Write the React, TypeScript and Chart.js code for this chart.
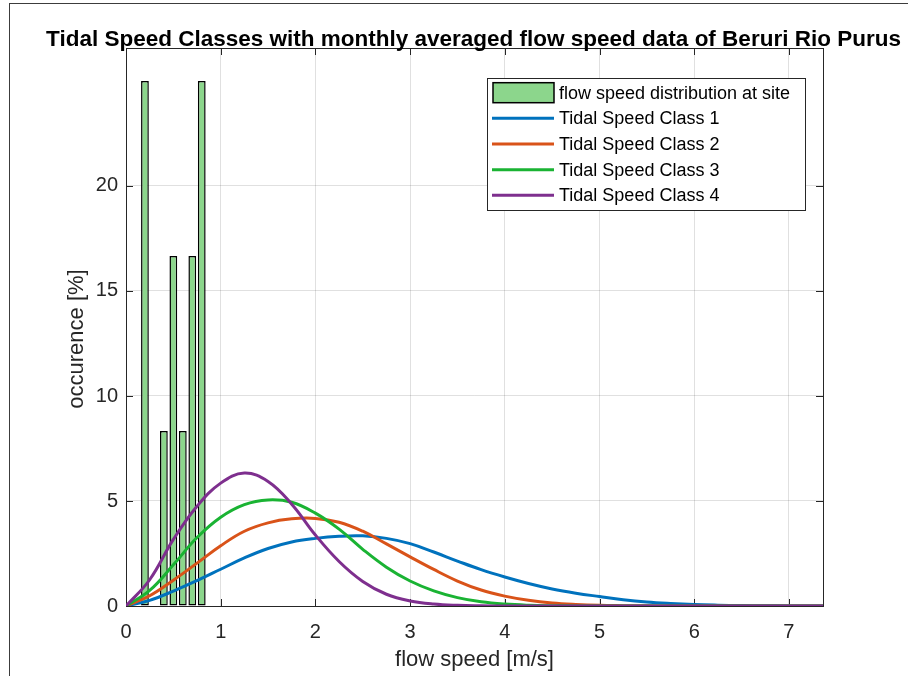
import React, { useEffect, useRef } from "react";
import { Chart, registerables } from "chart.js";

Chart.register(...registerables);

// ---------- text ----------
const TITLE = "Tidal Speed Classes with monthly averaged flow speed data of Beruri Rio Purus";
const X_LABEL = "flow speed [m/s]";
const Y_LABEL = "occurence [%]";

// ---------- axes ----------
const X_TICKS = [0, 1, 2, 3, 4, 5, 6, 7];
const Y_TICKS = [0, 5, 10, 15, 20];
const X_MAX = 7.36;
const Y_MAX = 26.57;

// ---------- histogram (monthly averaged flow speed) ----------
const BAR_LABEL = "flow speed distribution at site";
const BAR_SPEEDS = [0.2, 0.4, 0.5, 0.6, 0.7, 0.8];
const BAR_OCCURRENCE = [25, 8.33, 16.67, 8.33, 16.67, 25];

// ---------- tidal speed class curves ----------
const CLASS_LABELS = [
  "Tidal Speed Class 1",
  "Tidal Speed Class 2",
  "Tidal Speed Class 3",
  "Tidal Speed Class 4",
];
const CURVE_SPEEDS = [
  0, 0.25, 0.5, 0.75, 1, 1.25, 1.5, 1.75, 2, 2.25, 2.5, 2.75, 3, 3.25, 3.5, 3.75,
  4, 4.25, 4.5, 4.75, 5, 5.25, 5.5, 5.75, 6, 6.25, 6.5, 6.75, 7, 7.25, 7.36,
];
const CLASS_1 = [
  0, 0.27, 0.71, 1.21, 1.75, 2.29, 2.74, 3.05, 3.22, 3.32, 3.34, 3.22, 2.97, 2.57, 2.14, 1.73,
  1.38, 1.07, 0.81, 0.61, 0.45, 0.3, 0.19, 0.12, 0.07, 0.04, 0.02, 0.01, 0.005, 0.002, 0.001,
];
const CLASS_2 = [
  0, 0.49, 1.23, 2.04, 2.87, 3.56, 3.96, 4.15, 4.17, 3.99, 3.56, 2.96, 2.34, 1.74, 1.19, 0.76,
  0.47, 0.27, 0.14, 0.07, 0.03, 0.015, 0.006, 0.002, 0.001, 0, 0, 0, 0, 0, 0,
];
const CLASS_3 = [
  0, 0.74, 1.96, 3.26, 4.23, 4.83, 5.05, 4.94, 4.42, 3.66, 2.7, 1.85, 1.19, 0.72, 0.4, 0.2,
  0.09, 0.035, 0.012, 0.004, 0, 0, 0, 0, 0, 0, 0, 0, 0, 0, 0,
];
const CLASS_4 = [
  0, 1.25, 3.17, 4.75, 5.85, 6.33, 5.93, 4.85, 3.38, 2.12, 1.17, 0.56, 0.24, 0.09, 0.03, 0.01,
  0.003, 0, 0, 0, 0, 0, 0, 0, 0, 0, 0, 0, 0, 0, 0,
];
const CLASS_VALUES = [CLASS_1, CLASS_2, CLASS_3, CLASS_4];

// ---------- styles ----------
const CLASS_COLORS = ["rgb(0,114,189)", "rgb(217,83,25)", "rgb(26,179,51)", "rgb(126,47,142)"];
const BAR_FILL = "rgb(140,214,140)";
const AXIS_COLOR = "#262626";
const FONT = '"Liberation Sans", Arial, Helvetica, sans-serif';

const framePlugin = {
  id: "matlabFrame",
  beforeDatasetsDraw(chart: any) {
    const { ctx, chartArea } = chart;
    const { left, right, top, bottom } = chartArea;
    const xs = chart.scales.x;
    const ys = chart.scales.y;
    const tl = 7;
    ctx.save();
    ctx.strokeStyle = AXIS_COLOR;
    ctx.lineWidth = 1;
    ctx.beginPath();
    X_TICKS.forEach((v) => {
      const px = Math.round(xs.getPixelForValue(v)) + 0.5;
      ctx.moveTo(px, bottom);
      ctx.lineTo(px, bottom - tl);
      ctx.moveTo(px, top);
      ctx.lineTo(px, top + tl);
    });
    Y_TICKS.forEach((v) => {
      const py = Math.round(ys.getPixelForValue(v)) + 0.5;
      ctx.moveTo(left, py);
      ctx.lineTo(left + tl, py);
      ctx.moveTo(right, py);
      ctx.lineTo(right - tl, py);
    });
    ctx.stroke();
    ctx.strokeRect(Math.round(left) + 0.5, Math.round(top) + 0.5, Math.round(right - left), Math.round(bottom - top));
    ctx.restore();
  },
  afterDraw(chart: any) {
    const { ctx, chartArea } = chart;
    ctx.save();
    // title
    ctx.fillStyle = "#000";
    ctx.font = `bold 22.5px ${FONT}`;
    ctx.textAlign = "center";
    ctx.textBaseline = "alphabetic";
    ctx.fillText(TITLE, (chartArea.left + chartArea.right) / 2 - 1, 46);
    // y label
    ctx.save();
    ctx.translate(77, 339);
    ctx.rotate(-Math.PI / 2);
    ctx.fillStyle = AXIS_COLOR;
    ctx.font = `22px ${FONT}`;
    ctx.textBaseline = "middle";
    ctx.fillText(Y_LABEL, 0, 0);
    ctx.restore();

    // legend
    const bx = 487, by = 78, bw = 318, bh = 132;
    ctx.fillStyle = "#fff";
    ctx.fillRect(bx, by, bw, bh);
    ctx.strokeStyle = AXIS_COLOR;
    ctx.lineWidth = 1;
    ctx.strokeRect(bx + 0.5, by + 0.5, bw, bh);
    const datasets = chart.data.datasets;
    ctx.font = `18px ${FONT}`;
    ctx.textAlign = "left";
    ctx.textBaseline = "middle";
    datasets.forEach((ds: any, i: number) => {
      const cy = 92.7 + i * 25.65;
      if (ds.type === "bar") {
        ctx.fillStyle = ds.backgroundColor;
        ctx.fillRect(493, cy - 10, 61, 20);
        ctx.strokeStyle = "#000";
        ctx.lineWidth = 1.5;
        ctx.strokeRect(493, cy - 10, 61, 20);
      } else {
        ctx.strokeStyle = ds.borderColor;
        ctx.lineWidth = 3;
        ctx.beginPath();
        ctx.moveTo(492, cy);
        ctx.lineTo(554, cy);
        ctx.stroke();
      }
      ctx.fillStyle = "#000";
      ctx.fillText(ds.label, 559, cy + 1);
    });
    ctx.restore();
  },
};

export default function App() {
  const canvasRef = useRef<HTMLCanvasElement | null>(null);

  useEffect(() => {
    const canvas = canvasRef.current;
    if (!canvas) return;
    const datasets: any[] = [
      {
        type: "bar",
        label: BAR_LABEL,
        data: BAR_SPEEDS.map((x, i) => ({ x, y: BAR_OCCURRENCE[i] })),
        backgroundColor: BAR_FILL,
        borderColor: "#000",
        borderWidth: 1.5,
        borderSkipped: false,
        barPercentage: 0.82,
        categoryPercentage: 1,
        order: 10,
      },
      ...CLASS_LABELS.map((label, k) => ({
        type: "line",
        label,
        data: CURVE_SPEEDS.map((x, i) => ({ x, y: CLASS_VALUES[k][i] })),
        borderColor: CLASS_COLORS[k],
        backgroundColor: CLASS_COLORS[k],
        borderWidth: 3,
        pointRadius: 0,
        fill: false,
        tension: 0.4,
        order: 4 - k,
      })),
    ];

    const chart = new Chart(canvas, {
      type: "bar",
      data: { datasets },
      options: {
        animation: false,
        responsive: false,
        devicePixelRatio: 1,
        layout: { padding: { top: 48, right: 85, left: 0, bottom: 0 } },
        plugins: {
          legend: { display: false },
          title: { display: false },
          tooltip: { enabled: false },
        },
        scales: {
          x: {
            type: "linear",
            min: 0,
            max: X_MAX,
            offset: false,
            grid: { offset: false, color: "rgba(0,0,0,0.12)", drawTicks: false },
            border: { display: false },
            ticks: {
              font: { family: FONT, size: 20 },
              color: AXIS_COLOR,
              padding: 14,
              maxRotation: 0,
            },
            afterBuildTicks: (s: any) => {
              s.ticks = X_TICKS.map((v) => ({ value: v }));
            },
            afterFit: (s: any) => {
              s.height = 70;
            },
            title: {
              display: true,
              text: X_LABEL,
              font: { family: FONT, size: 22 },
              color: AXIS_COLOR,
              padding: { top: 0, bottom: 3 },
            },
          },
          y: {
            type: "linear",
            min: 0,
            max: Y_MAX,
            grid: { color: "rgba(0,0,0,0.12)", drawTicks: false },
            border: { display: false },
            ticks: {
              font: { family: FONT, size: 20 },
              color: AXIS_COLOR,
              padding: 8,
            },
            afterBuildTicks: (s: any) => {
              s.ticks = Y_TICKS.map((v) => ({ value: v }));
            },
            afterFit: (s: any) => {
              s.width = 126;
            },
          },
        },
      } as any,
      plugins: [framePlugin],
    } as any);

    return () => chart.destroy();
  }, []);

  return (
    <div style={{ position: "fixed", left: 0, top: 0, width: 908, height: 676, background: "#fff" }}>
      <div
        style={{
          position: "absolute",
          left: 9,
          top: 3,
          right: 0,
          bottom: 0,
          borderLeft: "1px solid #3c3c3c",
          borderTop: "1px solid #3c3c3c",
          pointerEvents: "none",
        }}
      />
      <canvas
        ref={canvasRef}
        width={908}
        height={676}
        style={{ position: "absolute", left: 0, top: 0, display: "block" }}
      />
    </div>
  );
}
